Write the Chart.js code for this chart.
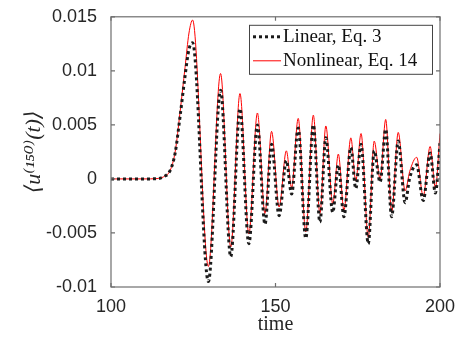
<!DOCTYPE html>
<html>
<head>
<meta charset="utf-8">
<script src="https://cdn.jsdelivr.net/npm/chart.js@4.4.1/dist/chart.umd.min.js"></script>
<style>
  body { margin: 0; background: #fff; }
</style>
</head>
<body>
<canvas id="uChart" width="461" height="343"></canvas>
<script>
// time of each turning point
const time = [100, 110, 114, 116, 118, 119.5, 121, 122.5, 123.7, 124.8,
  129.6, 133.3, 136.4, 139.2, 141.9, 144.5, 146.8, 148.8, 151.1, 153.3,
  154.9, 156.9, 159.2, 161.5, 163.5, 165.3, 167.4, 169.1, 170.8, 172.9,
  174.4, 176.0, 178.2, 180.0, 181.8, 183.5, 185.3, 187.3, 189.4, 190.8,
  192.9, 194.9, 197.0, 198.6, 200];

const linear = [0, 0, 0.00003, 0.0002, 0.0008, 0.0024, 0.0058, 0.0095, 0.0120, 0.0126,
  -0.0095, 0.0082, -0.0072, 0.0065, -0.0060, 0.0050, -0.0042, 0.0032, -0.0034, 0.0017,
  -0.0014, 0.0047, -0.0055, 0.0050, -0.0040, 0.0038, -0.0031, 0.0013, -0.0035, 0.0029,
  -0.0009, 0.0032, -0.0060, 0.0026, -0.0003, 0.0046, -0.0035, 0.0035, -0.0022, 0.0001,
  0.0013, -0.0020, 0.0024, -0.0013, 0.0033];

const nonlinear = [0, 0, 0.00003, 0.0002, 0.0008, 0.0025, 0.0062, 0.0103, 0.0135, 0.0147,
  -0.0081, 0.00975, -0.0063, 0.0079, -0.0051, 0.0061, -0.0032, 0.0044, -0.0026, 0.0026,
  -0.0008, 0.0056, -0.0049, 0.0059, -0.0032, 0.0049, -0.0023, 0.0023, -0.0029, 0.0038,
  -0.0002, 0.0042, -0.0054, 0.0035, 0.0000, 0.0055, -0.0031, 0.0043, -0.0011, 0.0007,
  0.0020, -0.0016, 0.0030, -0.0008, 0.0042];

const xTicks = [100, 150, 200];
const yTicks = [-0.01, -0.005, 0, 0.005, 0.01, 0.015];
const yTickLabels = ['-0.01', '-0.005', '0', '0.005', '0.01', '0.015'];

const axisColor = '#262626';
const tickFont = { family: '"Liberation Sans", Arial, sans-serif', size: 18 };

// matlab style box with inward ticks
const frame = {
  id: 'frame',
  afterDraw(chart) {
    const ctx = chart.ctx;
    const { left, right, top, bottom } = chart.chartArea;
    const len = 4;
    ctx.save();
    ctx.strokeStyle = '#6e6e6e';
    ctx.lineWidth = 1.2;
    ctx.strokeRect(left, top, right - left, bottom - top);
    ctx.beginPath();
    chart.scales.x.ticks.forEach(t => {
      const px = chart.scales.x.getPixelForValue(t.value);
      ctx.moveTo(px, bottom); ctx.lineTo(px, bottom - len);
      ctx.moveTo(px, top); ctx.lineTo(px, top + len);
    });
    chart.scales.y.ticks.forEach(t => {
      const py = chart.scales.y.getPixelForValue(t.value);
      ctx.moveTo(left, py); ctx.lineTo(left + len, py);
      ctx.moveTo(right, py); ctx.lineTo(right - len, py);
    });
    ctx.stroke();

    // legend in the top right corner
    const bw = 183, bh = 49;
    const bx = right - 8 - bw, by = top + 8;
    ctx.fillStyle = '#fff';
    ctx.fillRect(bx, by, bw, bh);
    ctx.strokeStyle = '#444';
    ctx.lineWidth = 1;
    ctx.strokeRect(bx + 0.5, by + 0.5, bw, bh);
    ctx.font = '19px "Liberation Serif", "Times New Roman", serif';
    ctx.textBaseline = 'middle';
    chart.data.datasets.forEach((ds, i) => {
      const y = by + 12 + i * 24;
      ctx.beginPath();
      ctx.strokeStyle = ds.borderColor;
      ctx.lineWidth = ds.borderWidth;
      ctx.setLineDash(ds.borderDash || []);
      ctx.moveTo(bx + 4, y);
      ctx.lineTo(bx + 32, y);
      ctx.stroke();
      ctx.setLineDash([]);
      ctx.fillStyle = '#111';
      ctx.fillText(ds.label, bx + 34, y);
    });
    ctx.restore();
  }
};

new Chart(document.getElementById('uChart'), {
  type: 'line',
  data: {
    datasets: [{
      label: 'Linear, Eq. 3',
      data: time.map((t, i) => ({ x: t, y: linear[i] })),
      borderColor: '#1a1a1a',
      borderWidth: 3,
      borderDash: [3, 3],
      pointRadius: 0,
      cubicInterpolationMode: 'monotone'
    }, {
      label: 'Nonlinear, Eq. 14',
      data: time.map((t, i) => ({ x: t, y: nonlinear[i] })),
      borderColor: '#ff0000',
      borderWidth: 1,
      pointRadius: 0,
      cubicInterpolationMode: 'monotone'
    }]
  },
  options: {
    responsive: false,
    animation: false,
    layout: { padding: { top: 15, right: 21, left: 0, bottom: 0 } },
    plugins: { legend: { display: false }, tooltip: { enabled: false } },
    scales: {
      x: {
        type: 'linear',
        min: 100,
        max: 200,
        afterBuildTicks: s => { s.ticks = xTicks.map(v => ({ value: v })); },
        afterFit: s => { s.height = 56; },
        grid: { display: false },
        border: { display: false },
        ticks: { color: axisColor, font: tickFont, padding: 1, maxRotation: 0 },
        title: {
          display: true,
          text: 'time',
          color: axisColor,
          font: { family: '"Liberation Serif", "Times New Roman", serif', size: 20 },
          padding: { top: 0, bottom: 6 }
        }
      },
      y: {
        min: -0.01,
        max: 0.015,
        afterBuildTicks: s => { s.ticks = yTicks.map(v => ({ value: v })); },
        afterFit: s => { s.width = 111; },
        grid: { display: false },
        border: { display: false },
        ticks: {
          color: axisColor,
          font: tickFont,
          padding: 6,
          callback: (v, i) => yTickLabels[i]
        },
        title: {
          display: true,
          text: '⟨u⁽¹⁵⁰⁾(t)⟩',
          color: axisColor,
          font: { family: '"Liberation Serif", "DejaVu Serif", serif', size: 22, style: 'italic' },
          padding: { top: 21, bottom: 0 }
        }
      }
    }
  },
  plugins: [frame]
});
</script>
</body>
</html>
